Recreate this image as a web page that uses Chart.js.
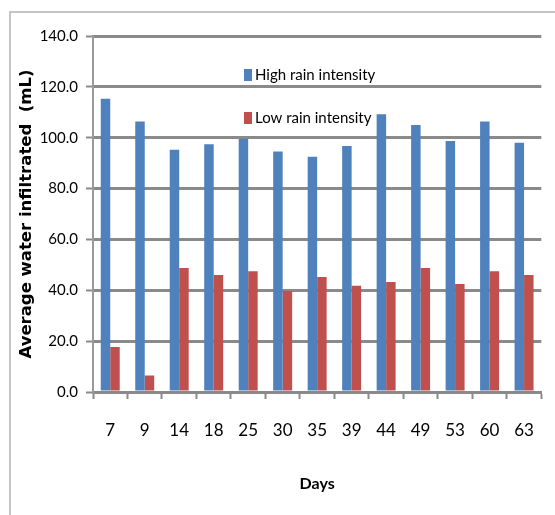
<!DOCTYPE html>
<html>
<head>
<meta charset="utf-8">
<script src="https://cdn.jsdelivr.net/npm/chart.js@4"></script>
<style>
  html, body { margin: 0; padding: 0; background: #fff; }
  #frame {
    position: absolute; left: 9px; top: 11px; width: 546px; height: 504px;
    border-left: 2px solid #c4c4c4; border-top: 2px solid #c4c4c4;
  }
  #wrap { position: absolute; left: 0; top: 0; width: 555px; height: 515px; }
</style>
</head>
<body>
<div id="frame"></div>
<div id="wrap"><canvas id="infiltration-chart" width="555" height="515"></canvas></div>
<script>
  'use strict'

  // Datos
  var days = ['7', '9', '14', '18', '25', '30', '35', '39', '44', '49', '53', '60', '63']
  var highRain = [115.3, 106.4, 95.3, 97.4, 99.5, 94.6, 92.5, 96.7, 109.2, 105.0, 98.7, 106.4, 98.0]
  var lowRain = [17.7, 6.5, 48.8, 46.0, 47.5, 39.7, 45.2, 41.8, 43.3, 48.8, 42.5, 47.5, 46.0]
  var seriesNames = ['High rain intensity', 'Low rain intensity']

  var gridGray = '#8a8a8a'
  var face = "Lato, 'Liberation Sans', sans-serif"

  // Leyenda dentro del área del gráfico
  var insideLegend = {
    id: 'insideLegend',
    afterDatasetsDraw: function (chart) {
      var ctx = chart.ctx
      var area = chart.chartArea
      var x = area.left + 151
      var rows = [area.top + 39, area.top + 82]
      ctx.save()
      ctx.font = '15px ' + face
      ctx.textBaseline = 'middle'
      ctx.textAlign = 'left'
      chart.data.datasets.forEach(function (ds, i) {
        var y = rows[i]
        ctx.fillStyle = ds.backgroundColor
        ctx.fillRect(x, y - 6, 8, 12)
        ctx.fillStyle = '#000'
        ctx.fillText(ds.label, x + 11, y)
      })
      ctx.restore()
    }
  }

  var ctx = document.getElementById('infiltration-chart').getContext('2d')

  var chart = new Chart(ctx, {
    type: 'bar',
    data: {
      labels: days,
      datasets: [
        {
          label: seriesNames[0],
          data: highRain,
          backgroundColor: '#4F81BD',
          categoryPercentage: 0.55,
          barPercentage: 1.0
        },
        {
          label: seriesNames[1],
          data: lowRain,
          backgroundColor: '#C0504D',
          categoryPercentage: 0.55,
          barPercentage: 1.0
        }
      ]
    },
    options: {
      responsive: false,
      animation: false,
      layout: {
        padding: { left: 0, right: 2, top: 36, bottom: 0 }
      },
      plugins: {
        legend: { display: false },
        tooltip: { enabled: false }
      },
      scales: {
        x: {
          offset: true,
          grid: {
            offset: true,
            drawOnChartArea: false,
            drawTicks: true,
            tickLength: 7,
            tickColor: gridGray,
            tickWidth: 2
          },
          border: { color: gridGray, width: 3 },
          ticks: {
            color: '#000',
            padding: 21,
            maxRotation: 0,
            font: { family: face, size: 17 }
          },
          title: {
            display: true,
            text: 'Days',
            color: '#000',
            padding: { top: 0, bottom: 22 },
            font: { family: face, size: 16, weight: 'bold' }
          },
          afterFit: function (scale) {
            scale.height = 123
          }
        },
        y: {
          min: 0,
          max: 140,
          grid: {
            color: gridGray,
            lineWidth: 3,
            tickLength: 7,
            tickColor: gridGray,
            tickWidth: 2
          },
          border: { color: '#9a9a9a', width: 2 },
          ticks: {
            stepSize: 20,
            color: '#000',
            padding: 8,
            font: { family: face, size: 15 },
            callback: function (v) { return v.toFixed(1) }
          },
          title: {
            display: true,
            text: 'Average water infiltrated  (mL)',
            color: '#000',
            padding: { top: 17, bottom: 0 },
            font: { family: "'DejaVu Sans', sans-serif", size: 16.5, weight: 'bold' }
          },
          afterFit: function (scale) {
            scale.width = 93
          }
        }
      }
    },
    plugins: [insideLegend]
  })
</script>
</body>
</html>
